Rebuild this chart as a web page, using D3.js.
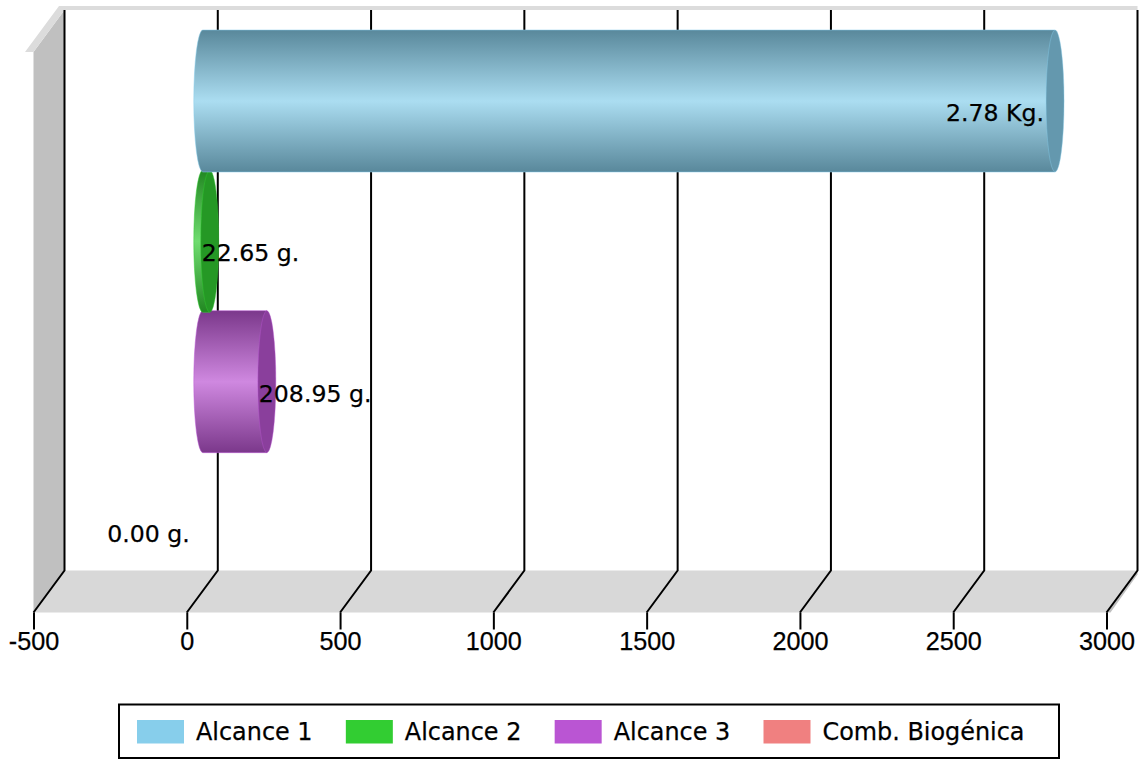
<!doctype html>
<html lang="en">

<head>
  <meta charset="utf-8">
  <title>Alcances</title>
  <style>
    * { margin: 0; padding: 0; box-sizing: border-box; }
    html, body { background: #fff; overflow: hidden; }
    svg { display: block; }
    .lbl { font-family: "DejaVu Sans", sans-serif; font-size: 23.6px; fill: #000; stroke: #000; stroke-width: .25px; }
    .leg { font-size: 23.9px; }
    .axis text { font-family: "Liberation Sans", Arial, sans-serif; font-size: 25.2px; fill: #000; stroke: #000; stroke-width: .25px; }
  </style>
</head>

<body>
  <div id="container"></div>
  <script src="https://cdn.jsdelivr.net/npm/d3@7"></script>
  <script>
    const categories = ['Alcance 1', 'Alcance 2', 'Alcance 3', 'Comb. Biogénica'];
    const values = [2780, 22.65, 208.95, 0];
    const valueLabels = ['2.78 Kg.', '22.65 g.', '208.95 g.', '0.00 g.'];
    const tickValues = [-500, 0, 500, 1000, 1500, 2000, 2500, 3000];
    const colors = ['#87ceeb', '#32cd32', '#ba55d3', '#f08080'];

    const W = 1142, H = 759;
    const floorY = 612.5, backY = 570.5, topY = 10;
    const depthX = 31;      // shift of the back wall
    const barShift = 16;    // bars sit part way along the depth
    const rx = 9, barH = 142;

    const x = d3.scaleLinear().domain([-500, 3000]).range([33.5, 1106.5]);
    const y = d3.scalePoint().domain(categories).range([101, 522]);

    const svg = d3.select('#container').append('svg')
      .attr('width', W)
      .attr('height', H);

    const defs = svg.append('defs');
    categories.forEach((c, i) => {
      const col = d3.rgb(colors[i]);
      const g = defs.append('linearGradient')
        .attr('id', 'grad' + i)
        .attr('x1', 0).attr('x2', 0).attr('y1', 0).attr('y2', 1);
      g.append('stop').attr('offset', '0%').attr('stop-color', scaled(col, .66));
      g.append('stop').attr('offset', '50%').attr('stop-color', d3.interpolateRgb(col, '#fff')(.3));
      g.append('stop').attr('offset', '100%').attr('stop-color', scaled(col, .66));
    });

    function scaled(c, k) {
      return d3.rgb(c.r * k, c.g * k, c.b * k).formatHex();
    }

    // walls and floor
    const x0 = x.range()[0], x1 = x.range()[1];
    svg.append('polygon')
      .attr('points', [[x0, 52], [x0 + depthX, topY], [x0 + depthX, backY], [x0, floorY]].join(' '))
      .attr('fill', '#c0c0c0');
    svg.append('polygon')
      .attr('points', [[25, 52], [59, 6], [x1 + depthX, 6], [x1 + depthX, topY], [x0 + depthX, topY], [x0, 52]].join(' '))
      .attr('fill', '#dcdcdc');
    svg.append('polygon')
      .attr('points', [[x0, floorY], [x0 + depthX, backY], [x1 + depthX, backY], [x1, floorY]].join(' '))
      .attr('fill', '#d8d8d8');
    svg.append('polygon')
      .attr('points', [[x1, floorY], [x1 + depthX, backY], [x1 + depthX, backY + 4], [x1 + 4, floorY]].join(' '))
      .attr('fill', '#c0c0c0');

    // grid lines, up the back wall and along the floor
    svg.append('g').selectAll('path')
      .data(tickValues)
      .join('path')
      .attr('d', d => `M${x(d) + depthX},${topY}V${backY}L${x(d)},${floorY}`)
      .attr('fill', 'none')
      .attr('stroke', '#000')
      .attr('stroke-width', 2);

    const axis = d3.axisBottom(x)
      .tickValues(tickValues)
      .tickSize(17)
      .tickPadding(3)
      .tickFormat(d => String(d));
    const axisG = svg.append('g')
      .attr('class', 'axis')
      .attr('transform', `translate(0,${floorY})`)
      .call(axis);
    axisG.select('.domain').remove();
    axisG.selectAll('line').attr('stroke', '#000').attr('stroke-width', 2);

    // cylinders, drawn backwards so the upper ones overlap the lower ones
    const bars = categories.map((c, i) => i).filter(i => values[i] > 0).reverse();
    const barG = svg.append('g').selectAll('g')
      .data(bars)
      .join('g');

    barG.append('path')
      .attr('d', i => {
        const l = x(0) + barShift, r = x(values[i]) + barShift;
        const t = y(categories[i]) - barH / 2;
        return `M${l},${t}H${r}V${t + barH}H${l}A${rx},${barH / 2} 0 0 1 ${l},${t}Z`;
      })
      .attr('fill', i => `url(#grad${i})`)
      .attr('stroke', i => colors[i])
      .attr('stroke-opacity', .5)
      .attr('stroke-width', 1);

    barG.append('ellipse')
      .attr('cx', i => x(values[i]) + barShift)
      .attr('cy', i => y(categories[i]))
      .attr('rx', rx)
      .attr('ry', barH / 2)
      .attr('fill', i => scaled(d3.rgb(colors[i]), .74))
      .attr('stroke', i => colors[i])
      .attr('stroke-opacity', .4)
      .attr('stroke-width', 1);

    // value labels
    svg.append('g').selectAll('text')
      .data(categories.map((c, i) => i))
      .join('text')
      .attr('class', 'lbl')
      .attr('x', i => {
        const e = x(values[i]) + barShift;
        if (i === 0) return e - 11;
        if (values[i] === 0) return e - 13;
        return e - 8;
      })
      .attr('y', i => y(categories[i]) + 20)
      .attr('text-anchor', i => (i === 0 || values[i] === 0) ? 'end' : 'start')
      .text(i => valueLabels[i]);

    // legend
    const legendX = d3.scalePoint().domain(categories).range([137, 763.5]);
    svg.append('rect')
      .attr('x', 119).attr('y', 704.5)
      .attr('width', 940).attr('height', 53.5)
      .attr('fill', '#fff')
      .attr('stroke', '#000')
      .attr('stroke-width', 2);
    const leg = svg.append('g').selectAll('g')
      .data(categories)
      .join('g')
      .attr('transform', d => `translate(${legendX(d)},720)`);
    leg.append('rect')
      .attr('width', 47).attr('height', 23.5)
      .attr('fill', (d, i) => colors[i]);
    leg.append('text')
      .attr('class', 'lbl leg')
      .attr('x', 59).attr('y', 20)
      .text(d => d);
  </script>
</body>

</html>
